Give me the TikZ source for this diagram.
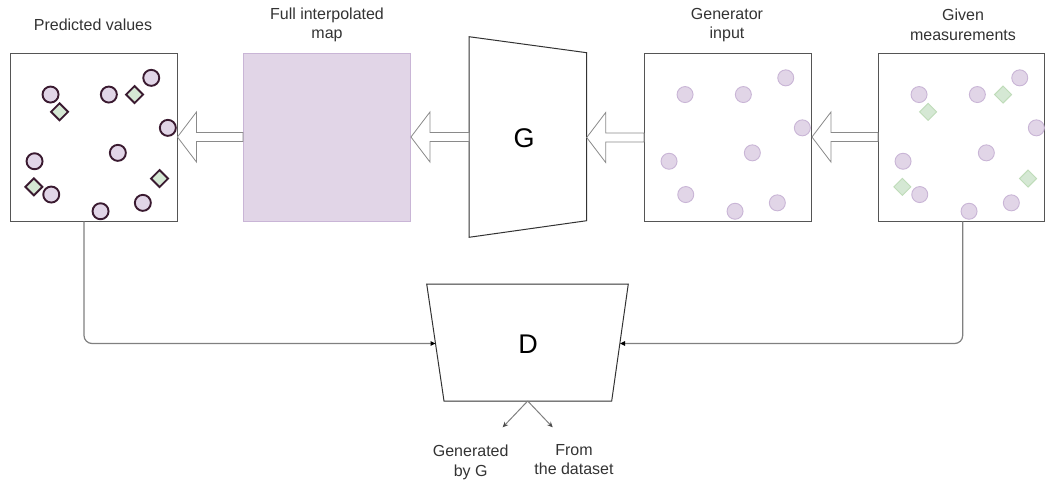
\documentclass[tikz,border=0pt]{standalone}
\usepackage{fontspec}
\setmainfont{Liberation Sans}
\usetikzlibrary{arrows.meta,calc}
\definecolor{lav}{HTML}{E1D5E7}
\definecolor{lavline}{HTML}{C9B5D6}
\definecolor{mint}{HTML}{D5E8D4}
\definecolor{mintline}{HTML}{BFDCB9}
\definecolor{plum}{HTML}{3A1A30}
\definecolor{boxline}{HTML}{555555}
\definecolor{connline}{HTML}{808080}
\definecolor{blkline}{HTML}{8A8A8A}
\newcommand\mycircles[1]{%
  \foreach \a/\b in {41/42,99.3/42,141.7/25.3,158.3/75.3,108.3/100.3,25/108.7,41.7/142,91/158.7,133.3/150.3}
    \draw[#1] (\a,\b) circle[radius=8];}
\newcommand\mydiamonds[1]{%
  \foreach \a/\b in {50/59.3,125/42,150/126,24.3/134.3}
    \draw[#1] (\a,\b-8.5) -- (\a+8.5,\b) -- (\a,\b+8.5) -- (\a-8.5,\b) -- cycle;}
\newcommand\blockarrow[2]{%
  \path let \p1=(#1), \p2=(#2) in
    [draw=blkline, fill=white, line width=0.8pt, line join=miter]
    (\x1,\y1) -- (\x1+19pt,\y1+25pt) -- (\x1+19pt,\y1+4.5pt) -- (\x2,\y1+4.5pt)
    -- (\x2,\y1-4.5pt) -- (\x1+19pt,\y1-4.5pt) -- (\x1+19pt,\y1-25pt) -- cycle;}
\begin{document}
\begin{tikzpicture}[x=1pt,y=-1pt,
  mapbox/.style={draw=boxline, line width=0.9pt, fill=white, minimum width=167pt, minimum height=168pt, inner sep=0pt},
  lbl/.style={font=\fontsize{16}{19.5}\selectfont, text=black!80, align=center, inner sep=0pt},
  biglbl/.style={font=\fontsize{27}{30}\selectfont, inner sep=0pt},
  trap/.style={draw=black!80, line width=1pt, fill=white, line join=miter},
  conn/.style={draw=connline, line width=1.2pt, rounded corners=8pt, -{Triangle[length=5pt,width=4.5pt,fill=black,color=black]}},
  outarr/.style={draw=connline, line width=1pt, -{Stealth[length=5.5pt,width=5pt,color=black!70]}},
  darkdot/.style={draw=plum, line width=1.9pt, fill=lav},
  lightdot/.style={draw=lavline, line width=0.9pt, fill=lav},
  darkdia/.style={draw=plum, line width=1.9pt, fill=mint, line join=miter},
  lightdia/.style={draw=mintline, line width=0.9pt, fill=mint, line join=miter}]
\useasboundingbox (0,0) rectangle (1045,483);

% boxes
\node[mapbox] (box1) at (93.5,137) {};
\node[mapbox, fill=lav, draw=lavline] (box2) at (327,137) {};
\node[mapbox] (box3) at (728,137) {};
\node[mapbox, minimum width=166pt] (box4) at (961.5,137) {};

% labels
\node[lbl] (l1) at (93,25) {Predicted values};
\node[lbl] (l2) at (327,25) {Full interpolated\\map};
\node[lbl] (l3) at (727,25) {Generator\\input};
\node[lbl] (l4) at (963,25) {Given\\measurements};

% G trapezoid
\draw[trap] (469,36.7) -- (586.7,52.7) -- (586.7,220.7) -- (469,237.3) -- cycle;
\node[biglbl] (G) at (524,138) {G};
\coordinate (Gl) at (469,137);
\coordinate (Gr) at (586.7,137.5);

% block arrows
\blockarrow{box1.east}{box2.west}
\blockarrow{box2.east}{Gl}
\blockarrow{Gr}{box3.west}
\blockarrow{box3.east}{box4.west}

% dots
\begin{scope}[shift={(box1.north west)}]
  \mycircles{darkdot}
  \mydiamonds{darkdia}
\end{scope}
\begin{scope}[shift={(box3.north west)}]
  \mycircles{lightdot}
\end{scope}
\begin{scope}[shift={(box4.north west)}]
  \mycircles{lightdot}
  \mydiamonds{lightdia}
\end{scope}

% D trapezoid
\draw[trap] (426.7,284) -- (628.3,284) -- (611.7,401) -- (444,401) -- cycle;
\node[biglbl] (D) at (528,344) {D};
\coordinate (Dl) at (435.5,343.5);
\coordinate (Dr) at (620,343.5);
\coordinate (Db) at (527.7,401);
\coordinate (o1) at (502.7,427.3);
\coordinate (o2) at (552.7,427.3);

% connectors
\draw[conn] ([xshift=-9.5pt]box1.south) |- (Dl);
\draw[conn] ([xshift=1.2pt]box4.south) |- (Dr);
\draw[outarr] (Db) -- (o1);
\draw[outarr] (Db) -- (o2);

\node[lbl] (gen) at (470.7,462.5) {Generated\\by G};
\node[lbl] (data) at (574,459.5) {From\\the dataset};
\end{tikzpicture}
\end{document}
